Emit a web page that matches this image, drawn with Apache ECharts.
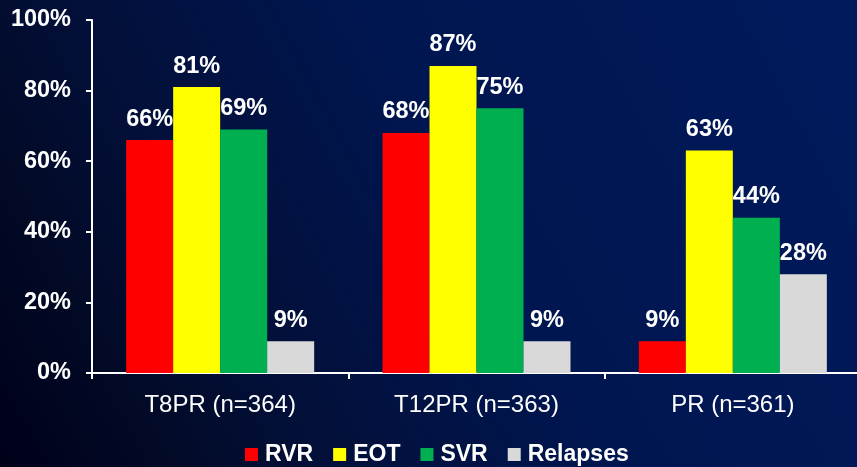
<!DOCTYPE html>
<html>
<head>
<meta charset="utf-8">
<script src="https://cdn.jsdelivr.net/npm/echarts@6/dist/echarts.min.js"></script>
<style>
  html, body { margin: 0; padding: 0; overflow: hidden; width: 857px; height: 467px; }
  /* canvas is a few pixels wider than the window so the plot area runs off the right edge */
  #chart { width: 861px; height: 467px; }
</style>
</head>
<body>
<div id="chart"></div>
<script>
// Treatment arms and response rates (%)
const categories = ['T8PR (n=364)', 'T12PR (n=363)', 'PR (n=361)'];
const rvr = [66, 68, 9];
const eot = [81, 87, 63];
const svr = [69, 75, 44];
const relapses = [9, 9, 28];

const seriesNames = ['RVR', 'EOT', 'SVR', 'Relapses'];
const seriesData = [rvr, eot, svr, relapses];
const seriesColors = ['#ff0000', '#ffff00', '#00b050', '#d9d9d9'];

const FONT = 'Liberation Sans, Arial, sans-serif';

const chart = echarts.init(document.getElementById('chart'), null, { renderer: 'canvas' });

chart.setOption({
  animation: false,
  backgroundColor: {
    type: 'linear', x: 1, y: 0, x2: 0, y2: 1,
    colorStops: [
      { offset: 0, color: '#001a5c' },
      { offset: 0.45, color: '#001650' },
      { offset: 0.72, color: '#030f38' },
      { offset: 0.85, color: '#020a26' },
      { offset: 1, color: '#00001a' }
    ]
  },
  grid: { left: 92, right: 0, top: 20, bottom: 94 },
  legend: {
    left: 240, top: 438,
    itemWidth: 13, itemHeight: 13, itemGap: 20,
    icon: 'rect',
    textStyle: { color: '#ffffff', fontSize: 23, fontWeight: 'bold', fontFamily: FONT, padding: [0, 0, 0, 2] },
    data: seriesNames
  },
  xAxis: {
    type: 'category',
    data: categories,
    axisLine: { lineStyle: { color: '#ffffff', width: 2 } },
    axisTick: { show: true, length: 6, lineStyle: { color: '#ffffff', width: 2 } },
    axisLabel: { color: '#ffffff', fontSize: 24, fontFamily: FONT, margin: 20 }
  },
  yAxis: {
    type: 'value',
    min: 0, max: 100, interval: 20,
    splitLine: { show: false },
    axisLine: { show: true, lineStyle: { color: '#ffffff', width: 2 } },
    axisTick: { show: true, length: 6, lineStyle: { color: '#ffffff', width: 2 } },
    axisLabel: {
      color: '#ffffff', fontSize: 23.5, fontWeight: 'bold', fontFamily: FONT, margin: 21,
      formatter: '{value}%'
    }
  },
  series: seriesData.map((d, i) => ({
    name: seriesNames[i],
    type: 'bar',
    data: d,
    barWidth: 47,
    barGap: '0%',
    itemStyle: { color: seriesColors[i] },
    label: {
      show: true, position: 'top', distance: 9,
      color: '#ffffff', fontSize: 23.5, fontWeight: 'bold', fontFamily: FONT,
      formatter: '{c}%'
    }
  }))
});
</script>
</body>
</html>
